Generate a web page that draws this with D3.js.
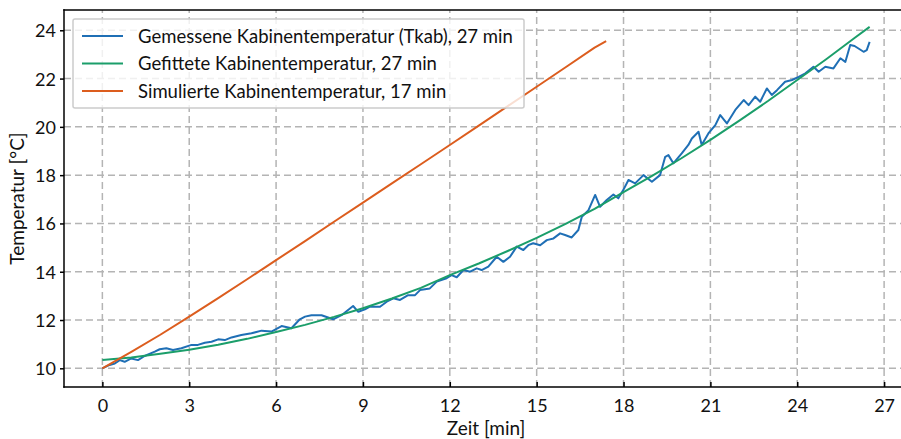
<!DOCTYPE html>
<html>
<head>
<meta charset="utf-8">
<script src="https://cdn.jsdelivr.net/npm/d3@7"></script>
<style>
  body { margin: 0; background: #fff; }
  svg { display: block; font-family: Lato, "Open Sans", sans-serif; }
</style>
</head>
<body>
<svg id="chart"></svg>
<script>
const timeMeas = [0, 0.25, 0.43, 0.6, 0.77, 1.0, 1.23, 1.46, 1.81, 1.98, 2.21, 2.44, 2.73, 3.08, 3.3, 3.54, 3.77, 4.0, 4.23, 4.46, 4.8, 5.15, 5.5, 5.84, 6.19, 6.53, 6.82, 7.0, 7.22, 7.57, 7.97, 8.26, 8.66, 8.84, 9.07, 9.24, 9.59, 9.82, 10.05, 10.28, 10.56, 10.8, 10.97, 11.31, 11.55, 11.89, 12.06, 12.24, 12.47, 12.7, 12.93, 13.1, 13.33, 13.62, 13.85, 14.08, 14.31, 14.54, 14.71, 14.88, 15.12, 15.35, 15.58, 15.81, 15.98, 16.21, 16.44, 16.56, 16.79, 17.02, 17.19, 17.42, 17.65, 17.82, 17.99, 18.17, 18.4, 18.69, 18.98, 19.26, 19.44, 19.55, 19.72, 20.01, 20.24, 20.36, 20.59, 20.7, 20.93, 21.17, 21.34, 21.57, 21.86, 22.15, 22.32, 22.55, 22.72, 22.95, 23.12, 23.3, 23.58, 23.82, 24.05, 24.28, 24.56, 24.74, 24.97, 25.25, 25.49, 25.66, 25.83, 25.98, 26.29, 26.4, 26.5]
const tempMeas = [10.0, 10.14, 10.2, 10.34, 10.27, 10.41, 10.34, 10.51, 10.69, 10.79, 10.83, 10.76, 10.83, 10.97, 10.97, 11.06, 11.1, 11.2, 11.17, 11.28, 11.38, 11.45, 11.56, 11.52, 11.75, 11.66, 12.03, 12.14, 12.2, 12.2, 12.03, 12.2, 12.58, 12.34, 12.44, 12.55, 12.55, 12.76, 12.9, 12.83, 13.03, 13.03, 13.24, 13.31, 13.59, 13.73, 13.86, 13.77, 14.07, 14.0, 14.14, 14.07, 14.21, 14.62, 14.41, 14.62, 15.04, 14.9, 15.1, 15.18, 15.1, 15.31, 15.38, 15.59, 15.52, 15.42, 15.73, 16.28, 16.55, 17.18, 16.69, 16.97, 17.2, 17.04, 17.38, 17.8, 17.66, 18.0, 17.73, 18.0, 18.76, 18.83, 18.49, 18.9, 19.25, 19.52, 19.8, 19.25, 19.73, 20.07, 20.49, 20.14, 20.7, 21.11, 20.9, 21.25, 21.04, 21.59, 21.32, 21.52, 21.87, 21.94, 22.07, 22.22, 22.49, 22.28, 22.49, 22.42, 22.84, 22.69, 23.39, 23.35, 23.11, 23.18, 23.52]

// fitted curve
const timeFit = [0, 1, 2, 3, 4, 5, 6, 7, 8, 9, 10, 11, 12, 13, 14, 15, 16, 17, 18, 19, 20, 21, 22, 23, 24, 25, 26, 26.5]
const tempFit = [10.34, 10.45, 10.6, 10.77, 10.98, 11.22, 11.5, 11.8, 12.13, 12.49, 12.89, 13.33, 13.86, 14.34, 14.86, 15.4, 15.98, 16.6, 17.3, 17.98, 18.7, 19.46, 20.26, 21.08, 21.94, 22.8, 23.7, 24.14]

// simulated curve
const timeSim = [0, 1, 2, 3, 4, 5, 6, 7, 8, 9, 10, 11, 12, 13, 14, 15, 16, 17, 17.4]
const tempSim = [10.0, 10.68, 11.39, 12.14, 12.91, 13.69, 14.48, 15.27, 16.07, 16.86, 17.66, 18.45, 19.25, 20.05, 20.86, 21.66, 22.47, 23.28, 23.55]

const xTicks = [0, 3, 6, 9, 12, 15, 18, 21, 24, 27]
const yTicks = [10, 12, 14, 16, 18, 20, 22, 24]

const series = [
  { label: 'Gemessene Kabinentemperatur (Tkab), 27 min', color: '#1f6fb5', t: timeMeas, v: tempMeas },
  { label: 'Gefittete Kabinentemperatur, 27 min', color: '#1b9e6a', t: timeFit, v: tempFit },
  { label: 'Simulierte Kabinentemperatur, 17 min', color: '#dc5d1e', t: timeSim, v: tempSim }
]

const width = 901
const height = 439
const margin = { top: 10, right: -7, bottom: 52, left: 64 }
const fontSize = 18

const svg = d3.select('#chart').attr('width', width).attr('height', height)

const x = d3.scaleLinear().domain([-1.325, 27.825]).range([margin.left, width - margin.right])
const y = d3.scaleLinear().domain([9.226, 24.84]).range([height - margin.bottom, margin.top])

const x0 = margin.left, x1 = width - margin.right
const y0 = height - margin.bottom, y1 = margin.top

// grid
const grid = svg.append('g').attr('class', 'grid')
  .attr('stroke', '#b4b4b4').attr('stroke-width', 1.5).attr('stroke-dasharray', '7,4')
grid.selectAll('line.gx').data(xTicks).join('line').attr('class', 'gx')
  .attr('x1', d => x(d)).attr('x2', d => x(d)).attr('y1', y0).attr('y2', y1)
grid.selectAll('line.gy').data(yTicks).join('line').attr('class', 'gy')
  .attr('y1', d => y(d)).attr('y2', d => y(d)).attr('x1', x0).attr('x2', x1)

// lines
const line = d3.line().x(d => x(d[0])).y(d => y(d[1]))
svg.append('g').attr('class', 'lines')
  .selectAll('path').data(series).join('path')
  .attr('fill', 'none')
  .attr('stroke', d => d.color)
  .attr('stroke-width', 2)
  .attr('stroke-linejoin', 'round')
  .attr('d', d => line(d3.zip(d.t, d.v)))

// axes
const xAxis = d3.axisBottom(x).tickValues(xTicks).tickSizeInner(-5).tickSizeOuter(0).tickPadding(12)
const yAxis = d3.axisLeft(y).tickValues(yTicks).tickSizeInner(4).tickSizeOuter(0).tickPadding(4)

const gx = svg.append('g').attr('transform', `translate(0,${y0})`).call(xAxis)
const gy = svg.append('g').attr('transform', `translate(${x0},0)`).call(yAxis)

for (const g of [gx, gy]) {
  g.select('.domain').remove()
  g.selectAll('.tick line').attr('stroke', '#000').attr('stroke-width', 1.5)
  g.selectAll('.tick text').attr('fill', '#111').attr('font-size', fontSize).attr('font-family', 'Lato, sans-serif')
}
gy.selectAll('.tick text').attr('dy', '0.36em')

// spines
const spines = svg.append('g').attr('stroke', '#000').attr('stroke-width', 1.5).attr('stroke-linecap', 'square')
spines.append('line').attr('x1', x0).attr('x2', x0).attr('y1', y0).attr('y2', y1)
spines.append('line').attr('x1', x0).attr('x2', x1).attr('y1', y0).attr('y2', y0)
spines.append('line').attr('x1', x0).attr('x2', x1).attr('y1', y1).attr('y2', y1)

// axis labels
svg.append('text').attr('x', (x0 + x1) / 2).attr('y', 435).attr('text-anchor', 'middle')
  .attr('font-size', 19).attr('fill', '#111').text('Zeit [min]')
svg.append('text').attr('transform', `translate(24,${(y0 + y1) / 2}) rotate(-90)`)
  .attr('text-anchor', 'middle').attr('font-size', 19).attr('fill', '#111').text('Temperatur [°C]')

// legend
const legend = svg.append('g').attr('transform', 'translate(73,19)')
legend.append('rect').attr('width', 451).attr('height', 89).attr('rx', 2)
  .attr('fill', 'rgba(255,255,255,0.8)').attr('stroke', '#cccccc').attr('stroke-width', 1.5)
const items = legend.selectAll('g.item').data(series).join('g').attr('class', 'item')
  .attr('transform', (d, i) => `translate(0,${17 + i * 27.5})`)
items.append('line').attr('x1', 9).attr('x2', 50).attr('stroke', d => d.color).attr('stroke-width', 2)
items.append('text').attr('x', 65).attr('dy', '0.36em').attr('font-size', 18.5).attr('fill', '#111').text(d => d.label)
</script>
</body>
</html>
